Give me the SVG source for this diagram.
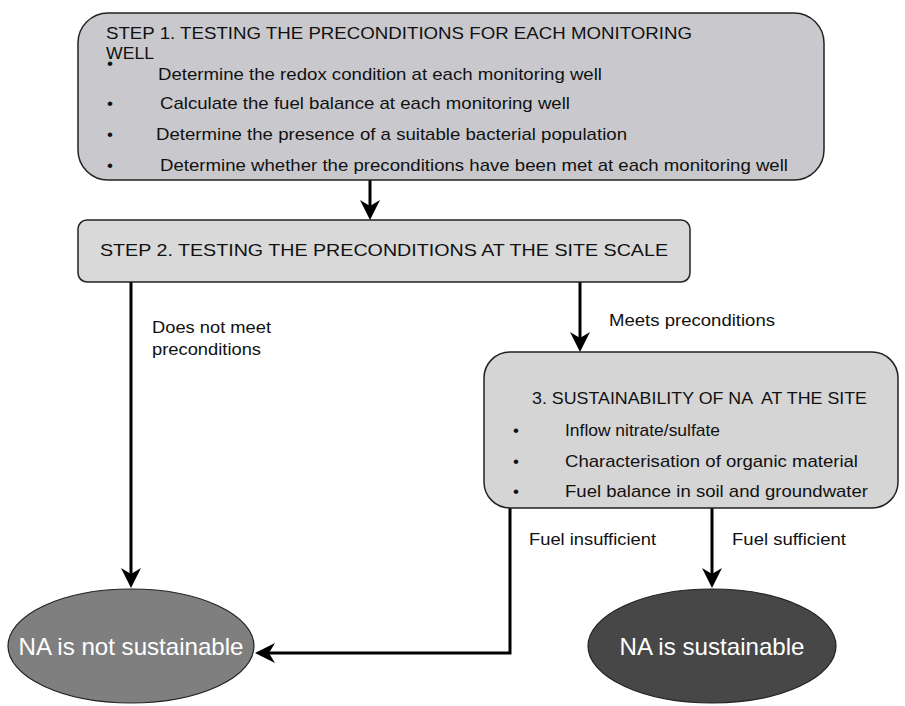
<svg xmlns="http://www.w3.org/2000/svg" width="905" height="706" viewBox="0 0 905 706">
<style>
  text { font-family: "Liberation Sans", Arial, sans-serif; font-size: 17px; fill: #111; }
  .box { stroke: #222; stroke-width: 1.5; }
  .conn { fill: none; stroke: #000; stroke-width: 3; }
  .ell { stroke: #222; stroke-width: 1.2; }
  .big { font-size: 24px; fill: #fff; text-anchor: middle; }
</style>
<defs>
  <marker id="arr" markerUnits="userSpaceOnUse" viewBox="-8 -12 24 24" markerWidth="24" markerHeight="24" refX="0" refY="0" orient="auto">
    <path d="M14,0 L-6,-10 L0,0 L-6,10 Z" fill="#000"/>
  </marker>
</defs>
<rect width="905" height="706" fill="#fff"/>

<g id="connectors">
  <line class="conn" x1="370" y1="180" x2="370" y2="206" marker-end="url(#arr)"/>
  <line class="conn" x1="131" y1="282" x2="131" y2="574" marker-end="url(#arr)"/>
  <line class="conn" x1="580" y1="282" x2="580" y2="338" marker-end="url(#arr)"/>
  <line class="conn" x1="712" y1="508" x2="712" y2="574" marker-end="url(#arr)"/>
  <path class="conn" d="M510,508 V653 H269" marker-end="url(#arr)"/>
  <text x="152" y="333" textLength="119" lengthAdjust="spacingAndGlyphs">Does not meet</text>
  <text x="152" y="355" textLength="109" lengthAdjust="spacingAndGlyphs">preconditions</text>
  <text x="609" y="326" textLength="166" lengthAdjust="spacingAndGlyphs">Meets preconditions</text>
  <text x="529" y="545" textLength="127" lengthAdjust="spacingAndGlyphs">Fuel insufficient</text>
  <text x="732" y="545" textLength="114" lengthAdjust="spacingAndGlyphs">Fuel sufficient</text>
</g>

<g id="step1">
  <rect class="box" x="78" y="13" width="746" height="167" rx="30" ry="30" fill="#c9c9cd"/>
  <text x="106" y="39" textLength="586" lengthAdjust="spacingAndGlyphs">STEP 1. TESTING THE PRECONDITIONS FOR EACH MONITORING</text>
  <text x="106" y="59" textLength="48" lengthAdjust="spacingAndGlyphs">WELL</text>
  <text x="107" y="69">•</text>
  <text x="158" y="80" textLength="444" lengthAdjust="spacingAndGlyphs">Determine the redox condition at each monitoring well</text>
  <text x="107" y="109">•</text>
  <text x="160" y="109" textLength="410" lengthAdjust="spacingAndGlyphs">Calculate the fuel balance at each monitoring well</text>
  <text x="107" y="140">•</text>
  <text x="156" y="140" textLength="471" lengthAdjust="spacingAndGlyphs">Determine the presence of a suitable bacterial population</text>
  <text x="107" y="171">•</text>
  <text x="160" y="171" textLength="628" lengthAdjust="spacingAndGlyphs">Determine whether the preconditions have been met at each monitoring well</text>
</g>

<g id="step2">
  <rect class="box" x="78" y="220" width="612" height="62" rx="9" ry="9" fill="#d9d9d9"/>
  <text x="100" y="256" textLength="568" lengthAdjust="spacingAndGlyphs">STEP 2. TESTING THE PRECONDITIONS AT THE SITE SCALE</text>
</g>

<g id="step3">
  <rect class="box" x="484" y="352" width="414" height="156" rx="26" ry="26" fill="#d5d5d5"/>
  <text x="532" y="404" textLength="335" lengthAdjust="spacingAndGlyphs" style="white-space:pre">3. SUSTAINABILITY OF NA  AT THE SITE</text>
  <text x="513" y="436">•</text>
  <text x="565" y="436" textLength="155" lengthAdjust="spacingAndGlyphs">Inflow nitrate/sulfate</text>
  <text x="513" y="467">•</text>
  <text x="565" y="467" textLength="293" lengthAdjust="spacingAndGlyphs">Characterisation of organic material</text>
  <text x="513" y="497">•</text>
  <text x="565" y="497" textLength="303" lengthAdjust="spacingAndGlyphs">Fuel balance in soil and groundwater</text>
</g>

<g id="not-sustainable">
  <ellipse class="ell" cx="131" cy="646" rx="123" ry="57" fill="#7f7f7f"/>
  <text class="big" x="131" y="655" textLength="225" lengthAdjust="spacingAndGlyphs">NA is not sustainable</text>
</g>

<g id="sustainable">
  <ellipse class="ell" cx="712" cy="646" rx="124" ry="57" fill="#474747"/>
  <text class="big" x="712" y="655" textLength="185" lengthAdjust="spacingAndGlyphs">NA is sustainable</text>
</g>
</svg>
